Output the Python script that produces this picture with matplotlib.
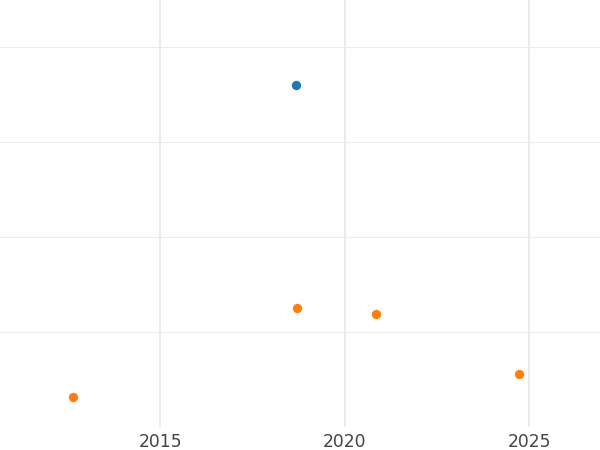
import matplotlib
matplotlib.use("Agg")
import matplotlib.pyplot as plt

# series values
blue_x = [2018.69]
blue_y = [3.6]
orange_x = [2012.64, 2018.71, 2020.85, 2024.73]
orange_y = [0.32, 1.25, 1.19, 0.56]

x_ticks = [2015, 2020, 2025]
y_ticks = [1, 2, 3, 4]

fig = plt.figure(figsize=(6, 4.5), dpi=100)
ax = fig.add_axes([0, 0.051, 1, 0.949])

ax.scatter(blue_x, blue_y, s=45, color="#1f77b4", zorder=3, linewidths=0)
ax.scatter(orange_x, orange_y, s=45, color="#ff7f0e", zorder=3, linewidths=0)

ax.set_xlim(2010.66, 2026.92)
ax.set_ylim(0, 4.495)
ax.set_xticks(x_ticks)
ax.set_yticks(y_ticks)
ax.set_yticklabels([])

for s in ax.spines.values():
    s.set_visible(False)
ax.tick_params(axis="both", length=0)
ax.tick_params(axis="x", labelsize=12.3, labelcolor="#444444", pad=4.5)

ax.grid(axis="x", color="#ebebeb", linewidth=1.44)
ax.grid(axis="y", color="#ebebeb", linewidth=0.75)
ax.set_axisbelow(True)

fig.savefig("out.png", dpi=100)
